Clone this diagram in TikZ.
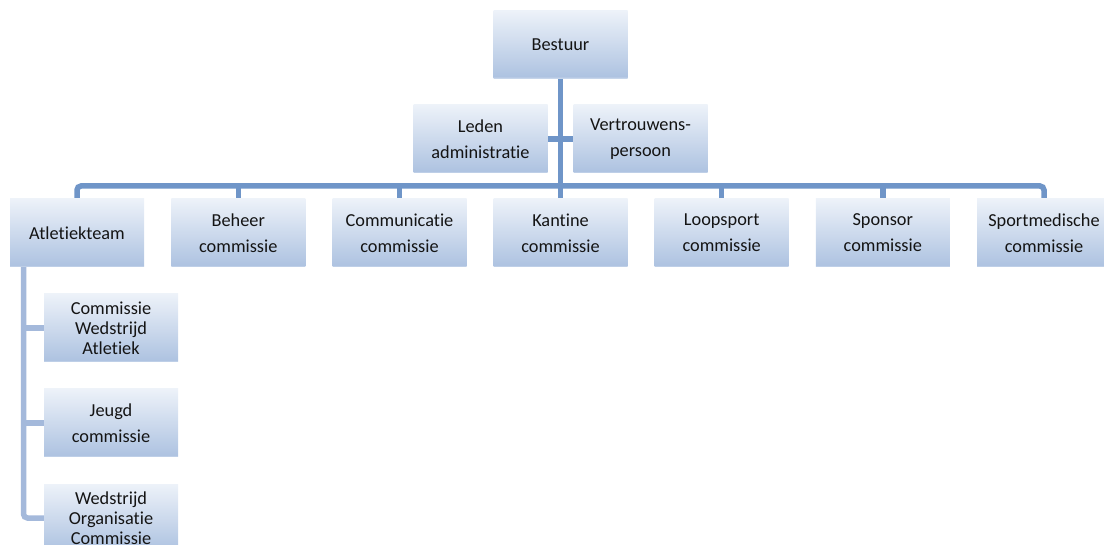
\documentclass[tikz,border=0pt]{standalone}
\usepackage{fontspec}
\setmainfont{Carlito}[Ligatures={NoCommon}]
\usetikzlibrary{backgrounds}
\definecolor{boxtop}{HTML}{EDF2F9}
\definecolor{boxbot}{HTML}{AEC3E1}
\definecolor{mainline}{HTML}{6F95C8}
\definecolor{subline}{HTML}{A4B9DB}
\definecolor{txt}{HTML}{141414}
\pgfdeclareverticalshading{boxshade}{100bp}{color(0bp)=(boxbot!60!white); color(25bp)=(boxbot!60!white); color(26.5bp)=(boxbot); color(75bp)=(boxtop); color(100bp)=(boxtop)}
\begin{document}
\begin{tikzpicture}[x=1pt,y=1pt,
  box/.style={minimum width=134pt, minimum height=68pt, inner sep=0pt, shading=boxshade, draw=none, align=center, font=\fontsize{18.3}{26}\selectfont, text=txt},
  tight/.style={font=\fontsize{18.3}{20}\selectfont},
  conn/.style={draw=mainline, line width=5.5pt, rounded corners=4pt},
  subconn/.style={draw=subline, line width=5.5pt, rounded corners=4pt}]
\useasboundingbox (0,0) rectangle (1104,-545);
\node[box] (bestuur) at (560.5,-44.5) {Bestuur};
\node[box] (leden) at (480.5,-139) {Leden\\administratie};
\node[box] (vertr) at (640.5,-139) {Vertrouwens-\\persoon};
\node[box] (atl) at (77,-233) {Atletiekteam};
\node[box] (beheer) at (238.3,-233) {Beheer\\commissie};
\node[box] (comm) at (399.5,-233) {Communicatie\\commissie};
\node[box] (kantine) at (560.5,-233) {Kantine\\commissie};
\node[box] (loop) at (721.7,-233) {Loopsport\\commissie};
\node[box] (sponsor) at (882.8,-233) {Sponsor\\commissie};
\node[box] (sport) at (1044,-233) {Sportmedische\\commissie};
\node[box,tight] (sub1) at (111,-328) {Commissie\\Wedstrijd\\Atletiek};
\node[box] (sub2) at (111,-423) {Jeugd\\commissie};
\node[box,tight] (sub3) at (111,-518) {Wedstrijd\\Organisatie\\Commissie};
\begin{pgfonlayer}{background}
\coordinate (barL) at (77,-186);
\coordinate (barR) at (1044,-186);
\coordinate (subbot) at (23.5,-518);
\draw[conn] (bestuur.south) -- (kantine.north);
\draw[conn] (leden.east) -- (vertr.west);
\draw[conn] (atl.north) -- (barL) -- (barR) -- (sport.north);
\foreach \n in {beheer,comm,loop,sponsor}
  \draw[conn] (\n.north) -- (\n.north |- barL);
\draw[subconn] (atl.south -| subbot) -- (subbot) -- (sub3.west);
\draw[subconn] (sub1.west -| subbot) -- (sub1.west);
\draw[subconn] (sub2.west -| subbot) -- (sub2.west);
\end{pgfonlayer}
\end{tikzpicture}
\end{document}
